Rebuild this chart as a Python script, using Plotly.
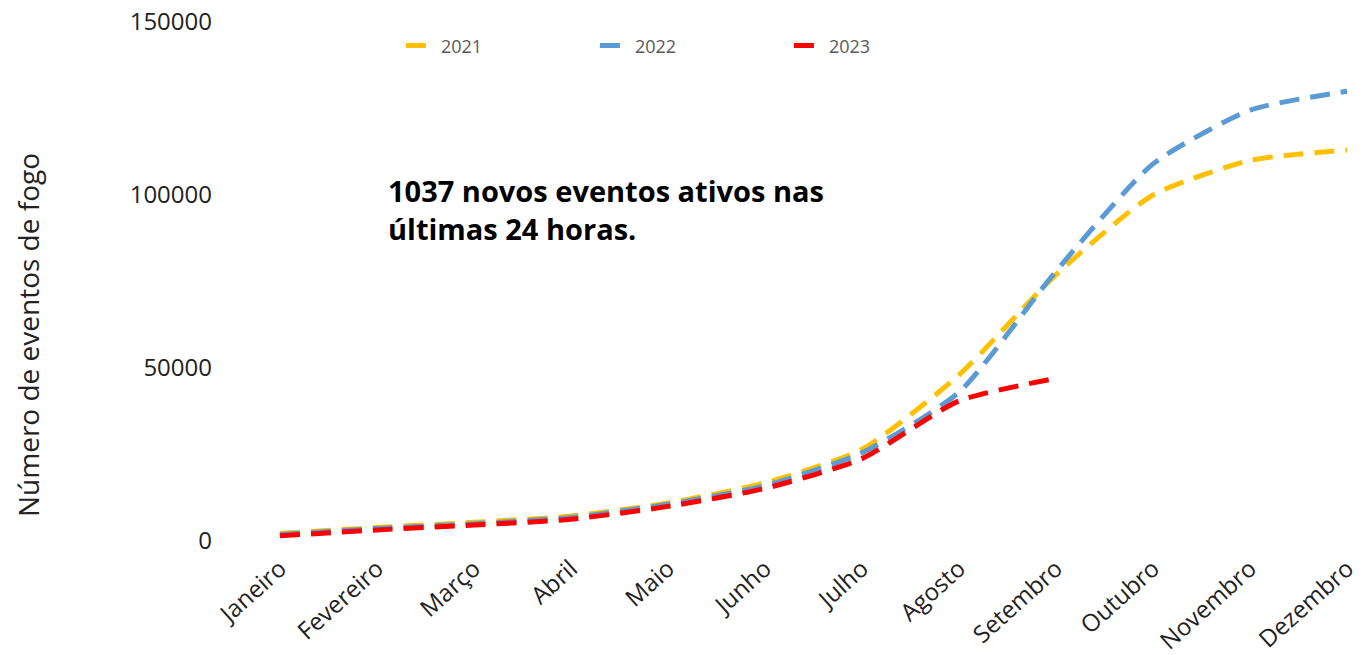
import plotly.graph_objects as go

months = ["Janeiro", "Fevereiro", "Março", "Abril", "Maio", "Junho",
          "Julho", "Agosto", "Setembro", "Outubro", "Novembro", "Dezembro"]

y2021 = [2200, 3900, 5400, 7200, 11000, 16800, 26500, 48000, 77000, 100000, 110000, 113000]
y2022 = [1900, 3600, 5000, 6800, 10600, 16000, 25500, 43000, 78000, 109000, 124500, 130000]
y2023 = [1500, 3200, 4600, 6300, 10000, 15200, 23800, 40500, 47000]

series = [("2021", y2021, "#FFC000"), ("2022", y2022, "#5B9BD5"), ("2023", y2023, "#FF0000")]

fig = go.Figure()
for name, ys, col in series:
    fig.add_trace(go.Scatter(
        x=months[:len(ys)], y=ys, name=name, mode="lines",
        line=dict(color=col, width=5, dash="20px,11px", shape="spline", smoothing=0.6),
    ))

fig.add_annotation(
    text="<b>1037 novos eventos ativos nas<br>últimas 24 horas.</b>",
    xref="paper", yref="paper", x=0.1015, y=0.717, xanchor="left", yanchor="top",
    align="left", showarrow=False,
    font=dict(family="Open Sans", size=29, color="#000000"),
)

fig.add_annotation(
    text="Número de eventos de fogo", textangle=-90,
    xref="paper", yref="paper", x=-0.232, y=0.397, xanchor="center", yanchor="middle",
    showarrow=False,
    font=dict(family="Open Sans", size=28, color="#222222"),
)

fig.update_layout(
    width=1364, height=655,
    margin=dict(l=277, r=14, t=22, b=114, autoexpand=False),
    paper_bgcolor="white", plot_bgcolor="white",
    font=dict(family="Open Sans", color="#222222"),
    showlegend=True,
    legend=dict(orientation="h", x=0.1155, y=0.954, xanchor="left", yanchor="middle",
                font=dict(family="Open Sans", size=18, color="#595959"),
                entrywidth=149, bgcolor="rgba(0,0,0,0)"),
    xaxis=dict(type="category", range=[-0.03, 11.03], showgrid=False, zeroline=False,
               showline=False, ticks="", tickangle=-42, automargin=False,
               ticklabelstandoff=8, ticklabeloverflow="allow",
               tickfont=dict(family="Open Sans", size=24, color="#222222")),
    yaxis=dict(range=[0, 150000], tickvals=[0, 50000, 100000, 150000],
               ticktext=["0", "50000", "100000", "150000"],
               showgrid=False, zeroline=False, showline=False, ticks="",
               ticklabelstandoff=64, automargin=False, ticklabeloverflow="allow",
               tickfont=dict(family="Open Sans", size=24, color="#222222")),
)

fig.write_html("out.html", config={"displayModeBar": False},
               post_script="document.body.style.margin='0px';document.body.style.overflow='hidden';")
